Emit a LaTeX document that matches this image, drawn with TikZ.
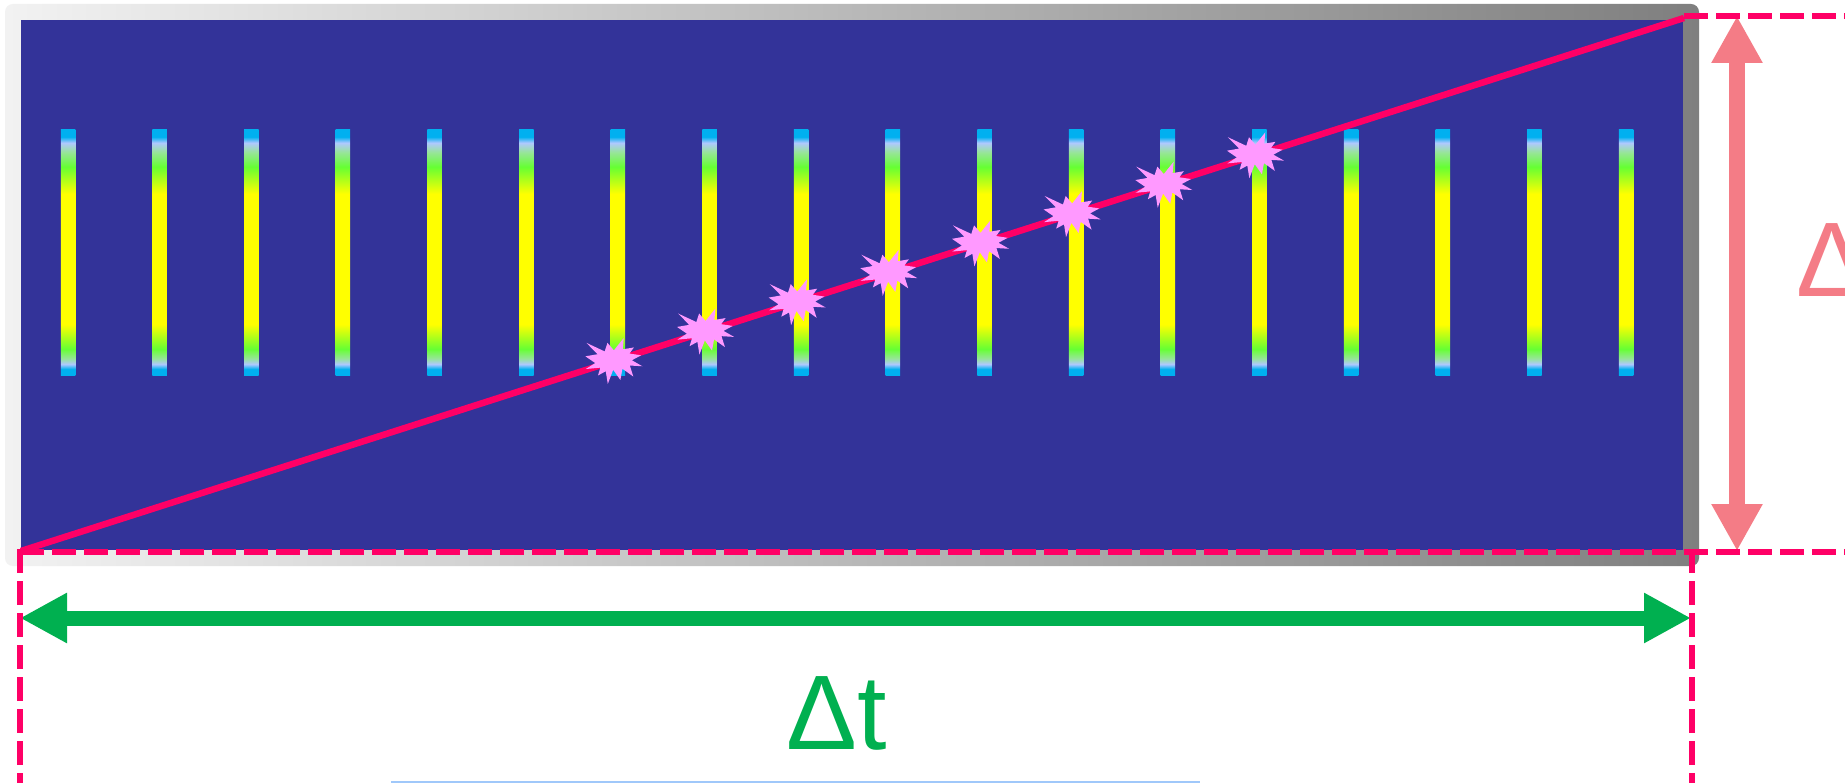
\documentclass[tikz,border=0pt]{standalone}
\usepackage{fontspec}
\setmainfont{Liberation Sans}
\usetikzlibrary{arrows.meta}
\definecolor{bgblue}{RGB}{51,51,153}
\definecolor{hot}{RGB}{255,0,102}
\definecolor{starpink}{RGB}{255,153,255}
\definecolor{arrowpink}{RGB}{244,124,134}
\definecolor{agreen}{RGB}{0,176,80}
\definecolor{frameL}{RGB}{242,242,242}
\definecolor{frameR}{RGB}{127,127,127}
\definecolor{bcyan}{RGB}{0,176,240}
\definecolor{blight}{RGB}{175,200,255}
\definecolor{bpale}{RGB}{150,230,150}
\definecolor{bgreen}{RGB}{102,255,51}
\definecolor{byellow}{RGB}{255,255,0}
\definecolor{faintblue}{RGB}{160,200,250}
\pgfdeclareverticalshading{barshade}{100bp}{color(0bp)=(bcyan); color(25bp)=(bcyan); color(26.4bp)=(bcyan); color(27.4bp)=(blight); color(28.6bp)=(bpale); color(30.5bp)=(bgreen); color(35.5bp)=(byellow); color(62bp)=(byellow); color(67.5bp)=(bgreen); color(70.4bp)=(bpale); color(72.4bp)=(blight); color(73.6bp)=(bcyan); color(75bp)=(bcyan); color(100bp)=(bcyan)}
\tikzset{
  burst/.pic={\fill[starpink] (0,-10.65) -- (9.82,-23.0) -- (8.85,-11.66) -- (20.00,-13.51) -- (15.57,-7.42) -- (27.17,-5.67) -- (17.96,-0.69) -- (28.5,5.30) -- (15.93,4.56) -- (19.38,15.54) -- (8.50,7.79) -- (6.46,19.03) -- (-0.71,8.81) -- (-6.11,23.0) -- (-8.14,10.28) -- (-15.93,14.52) -- (-13.55,6.68) -- (-28.14,8.06) -- (-18.68,2.08) -- (-28.5,-4.65) -- (-16.29,-6.78) -- (-27.52,-18.11) -- (-9.20,-9.54) -- (-6.46,-18.11) -- cycle;},
  dashline/.style={hot, line width=6.7pt, dash pattern=on 24pt off 8pt},
  pinkarrow/.style={arrowpink, line width=16.7pt, {Triangle[length=47pt,width=48pt]}-{Triangle[length=47pt,width=48pt]}},
  greenarrow/.style={agreen, line width=15pt, {Triangle[length=47pt,width=47pt]}-{Triangle[length=47pt,width=47pt]}},
  bigtext/.style={anchor=base west, inner sep=0pt, font=\fontsize{106}{110}\selectfont}
}
\begin{document}
\begin{tikzpicture}[x=1pt,y=-1pt]
\useasboundingbox (0,0) rectangle (1845,783);
\clip (0,0) rectangle (1845,783);
\fill[white] (0,0) rectangle (1845,783);
% frame and panel
\shade[left color=frameL, right color=frameR, rounded corners=8pt] (5,4) rectangle (1699,566);
\fill[bgblue] (21,20) rectangle (1683,550);
% bars
\foreach \i in {0,...,17}{
  \pgfmathsetmacro\bx{68+91.65*\i}
  \shade[shading=barshade] (\bx-7.25,130) rectangle (\bx+7.25,376);
}
% diagonal
\coordinate (dA) at (21,551);
\coordinate (dB) at (1684,18);
\draw[hot, line width=6.5pt] (dA) -- (dB);
% bursts
\foreach \i in {6,...,13}{
  \pgfmathsetmacro\cx{68+91.65*\i-4}
  \pgfmathsetmacro\cy{551-0.32051*(\cx-21)}
  \pic at (\cx,\cy) {burst};
}
% arrows
\coordinate (vtop) at (1737,16);
\coordinate (vbot) at (1737,551);
\draw[pinkarrow] (vtop) -- (vbot);
\coordinate (hL) at (20,618);
\coordinate (hR) at (1691,618);
\draw[greenarrow] (hL) -- (hR);
% dashed guides
\coordinate (t0) at (1684,16);
\coordinate (t1) at (1860,16);
\draw[dashline] (t0) -- (t1);
\coordinate (b0) at (20,552);
\coordinate (b1) at (1860,552);
\draw[dashline] (b0) -- (b1);
\coordinate (l0) at (20,549);
\coordinate (l1) at (20,800);
\draw[dashline] (l0) -- (l1);
\coordinate (r0) at (1692,549);
\coordinate (r1) at (1692,800);
\draw[dashline] (r0) -- (r1);
% labels
\node[bigtext, text=agreen] (dt) at (786,749) {Δt};
\node[bigtext, text=arrowpink] (dv) at (1796,297) {Δ};
% faint bottom line
\coordinate (f0) at (391,782);
\coordinate (f1) at (1200,782);
\draw[faintblue, line width=1.5pt] (f0) -- (f1);
\end{tikzpicture}
\end{document}
